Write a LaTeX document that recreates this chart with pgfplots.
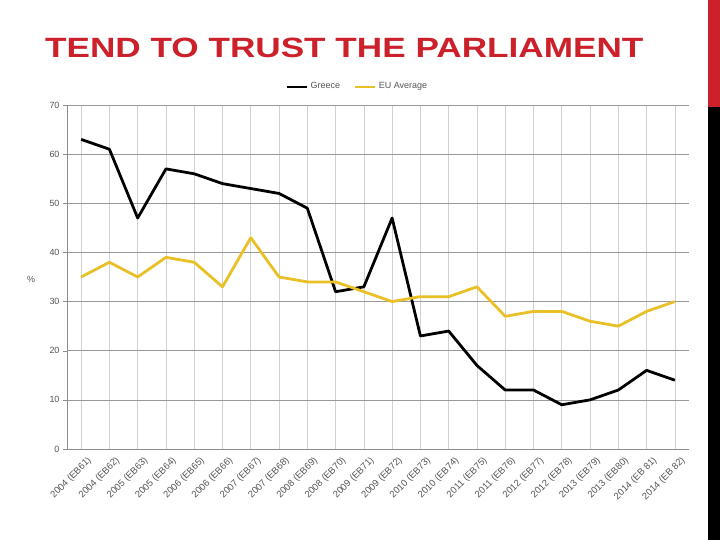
\documentclass[border=0pt]{standalone}
\usepackage{pgfplots}
\pgfplotsset{compat=1.18}
\usepackage{fontspec}
\setmainfont{Liberation Sans}
\definecolor{titlered}{RGB}{204,32,42}
\definecolor{euyellow}{RGB}{233,192,38}
\definecolor{txtgray}{RGB}{85,85,85}
\begin{document}
\begin{tikzpicture}
\path[use as bounding box,fill=white] (0bp,0bp) rectangle (720bp,540bp);
\fill[titlered] (708bp,433bp) rectangle (720bp,540bp);
\fill[black] (708bp,0bp) rectangle (720bp,433bp);
\node[anchor=base west,text=titlered,inner sep=0pt] at (45bp,482bp) {\scalebox{1.26}[1]{\fontsize{28}{28}\selectfont\bfseries TEND TO TRUST THE PARLIAMENT}};
\begin{axis}[
  at={(67bp,91bp)}, anchor=south west,
  width=622bp, height=344bp, scale only axis,
  xmin=-0.5, xmax=21.5, ymin=0, ymax=70,
  ytick={0,10,...,70},
  xtick={0,...,21},
  xticklabels={2004 (EB61),2004 (EB62),2005 (EB63),2005 (EB64),2006 (EB65),2006 (EB66),2007 (EB67),2007 (EB68),2008 (EB69),2008 (EB70),2009 (EB71),2009 (EB72),2010 (EB73),2010 (EB74),2011 (EB75),2011 (EB76),2012 (EB77),2012 (EB78),2013 (EB79),2013 (EB80),2014 (EB 81),2014 (EB 82)},
  x tick label style={rotate=45, anchor=north east, font=\fontsize{9.5}{9.5}\selectfont, text=txtgray, inner sep=1pt, xshift=3bp, yshift=-5bp},
  y tick label style={font=\fontsize{9}{9}\selectfont, text=txtgray},
  /pgf/number format/assume math mode=true,
  ymajorgrids, xmajorgrids,
  y grid style={draw=black!40, line width=0.6pt},
  x grid style={draw=black!18, line width=0.6pt},
  axis x line*=bottom, axis y line*=left,
  axis line style={draw=black!45, line width=0.8pt, -},
  xtick style={draw=none},
  ytick style={draw=black!45},
  tick align=outside, major tick length=4bp,
  ylabel={\%}, ylabel style={rotate=-90, font=\fontsize{9}{9}\selectfont, text=txtgray, at={(axis description cs:0,0.5)}, anchor=center, xshift=-36bp, yshift=-2bp},
  legend style={at={(0.467,1.03)}, anchor=south, draw=none, fill=none, font=\fontsize{9}{9}\selectfont, text=txtgray, legend columns=2, /tikz/every even column/.append style={column sep=12bp}, /tikz/every odd column/.append style={column sep=1bp}},
  legend image code/.code={\draw[#1, line width=2pt] (0cm,0cm) -- (0.7cm,0cm);},
  clip=false,
]
\addplot[black, line width=2.8pt, line join=round] coordinates {
(0,63)(1,61)(2,47)(3,57)(4,56)(5,54)(6,53)(7,52)(8,49)(9,32)(10,33)(11,47)(12,23)(13,24)(14,17)(15,12)(16,12)(17,9)(18,10)(19,12)(20,16)(21,14)};
\addlegendentry{Greece}
\addplot[euyellow, line width=2.8pt, line join=round] coordinates {
(0,35)(1,38)(2,35)(3,39)(4,38)(5,33)(6,43)(7,35)(8,34)(9,34)(10,32)(11,30)(12,31)(13,31)(14,33)(15,27)(16,28)(17,28)(18,26)(19,25)(20,28)(21,30)};
\addlegendentry{EU Average}
\end{axis}
\end{tikzpicture}
\end{document}
